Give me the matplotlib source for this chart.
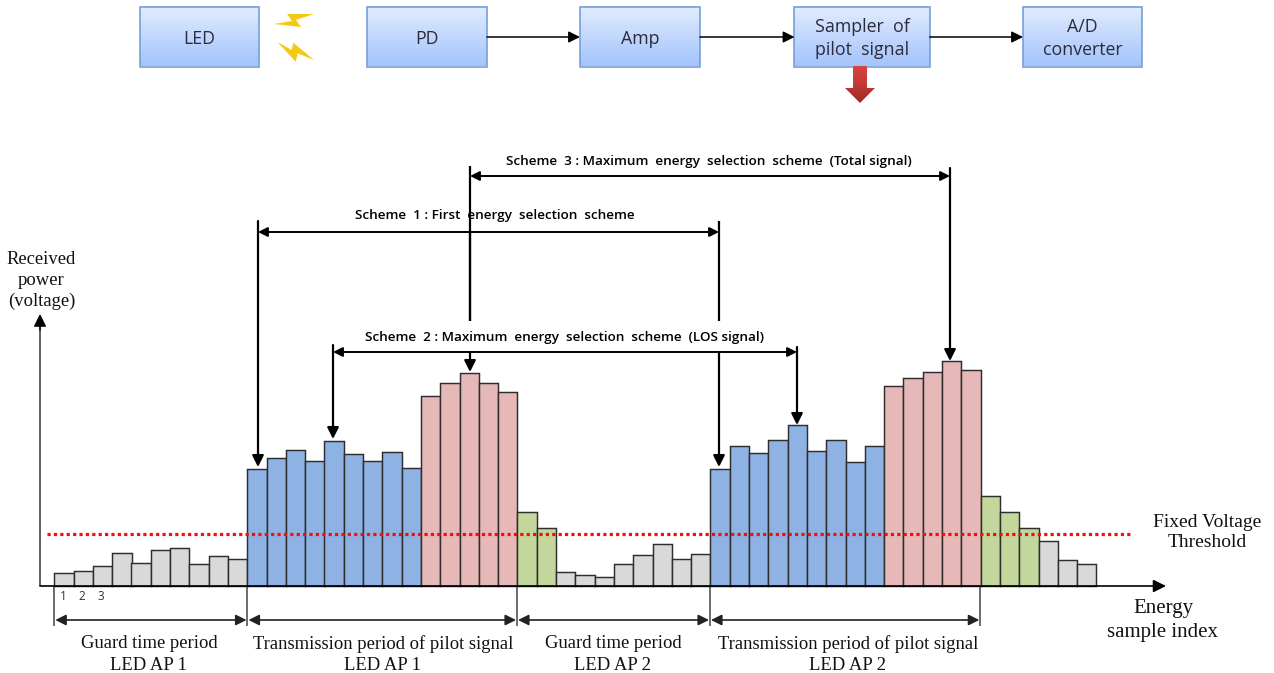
import numpy as np
import matplotlib
matplotlib.use('Agg')
import matplotlib.pyplot as plt
from matplotlib.colors import LinearSegmentedColormap
from matplotlib.patches import Polygon, Rectangle

# heights of the energy samples, in px above the axis
guard_1 = [13.3, 15.3, 20, 33, 22.7, 36.3, 38.3, 21.7, 30, 26.7]
pilot_los_1 = [117.3, 127.7, 136, 124.7, 145.3, 131.7, 124.7, 133.7, 118]
pilot_peak_1 = [190.3, 202.7, 213.3, 202.7, 194.3]
pilot_tail_1 = [74, 58.3]
guard_2 = [13.7, 11.3, 9.3, 21.7, 31, 41.7, 27, 32.3]
pilot_los_2 = [117.3, 140, 132.7, 146.3, 160.7, 134.7, 146.3, 124, 140]
pilot_peak_2 = [199.7, 208, 214.3, 224.7, 216.3]
pilot_tail_2 = [90, 74, 58.3]
guard_3 = [45, 26, 21.7]
threshold = 52

segments = [
    (guard_1, '#d9d9d9'), (pilot_los_1, '#8db2e3'), (pilot_peak_1, '#e6b9b8'),
    (pilot_tail_1, '#c3d69b'), (guard_2, '#d9d9d9'), (pilot_los_2, '#8db2e3'),
    (pilot_peak_2, '#e6b9b8'), (pilot_tail_2, '#c3d69b'), (guard_3, '#d9d9d9'),
]

block_names = ['LED', 'PD', 'Amp', 'Sampler  of\npilot  signal', 'A/D\nconverter']
block_left = [140, 367.5, 580, 794.5, 1023]
block_right = [259, 487, 700, 929.7, 1142]

period_names = ['Guard time period\nLED AP 1', 'Transmission period of pilot signal\nLED AP 1',
                'Guard time period\nLED AP 2', 'Transmission period of pilot signal\nLED AP 2']
period_edges = [54.3, 247.5, 517, 710, 980.3]
period_centers = [149, 383, 613, 848]

W, H = 1274, 673
BASE = 586
BAR_X0 = 54.3
BAR_W = 19.3


def px(x):
    # picture x to sample index
    return (x - BAR_X0) / BAR_W


def py(y):
    # picture y to height above the axis
    return BASE - y


def line(x0, y0, x1, y1, lw=1.6, color='black', z=5):
    ax.plot([px(x0), px(x1)], [py(y0), py(y1)], color=color, lw=lw, zorder=z, solid_capstyle='butt')


def arrow(x0, y0, x1, y1, style='-|>', lw=1.3, color='black', scale=15, z=6):
    ax.annotate('', xy=(px(x1), py(y1)), xytext=(px(x0), py(y0)), zorder=z,
                arrowprops=dict(arrowstyle=style, color=color, lw=lw, mutation_scale=scale,
                                shrinkA=0, shrinkB=0))


serif = 'Liberation Serif'
sans = 'Open Sans'

fig = plt.figure(figsize=(W / 100, H / 100), dpi=100)
ax = fig.add_axes([0, 0, 1, 1])
ax.set_xlim(px(0), px(W))
ax.set_ylim(py(H), py(0))
ax.axis('off')

# samples
idx = 0
for values, colour in segments:
    ax.bar(np.arange(idx, idx + len(values)), values, width=1, align='edge', color=colour,
           edgecolor='#2e2e2e', linewidth=1.05, zorder=2)
    idx += len(values)

ax.plot([px(47), px(1131)], [threshold, threshold], color='#fa0a0a', lw=2.3, ls=(0, (1, 1)), zorder=4)

# axes of the sketch
arrow(40, 586, 1166, 586, lw=1.2, scale=19)
line(40, 586, 40, 325, lw=1.2, color='#444444')
arrow(40, 330, 40, 314, lw=1.0, scale=19)

# period brackets
for x in period_edges:
    line(x, 586, x, 626, lw=1.1, color='#444444')
for a, b in zip(period_edges[:-1], period_edges[1:]):
    arrow(a + 1, 620, b - 1, 620, style='<|-|>', lw=1.2, color='#222222', scale=16)
for name, x in zip(period_names, period_centers):
    ax.text(px(x), py(654.5), name, family=serif, fontsize=13.4, ha='center', va='center',
            linespacing=1.37, color='#111111')
for label, x in zip(['1', '2', '3'], [63.5, 81.5, 101]):
    ax.text(px(x), py(597), label, family=sans, fontsize=8.5, ha='center', va='center', color='#333333')

# scheme 3
arrow(470, 176, 950, 176, style='<|-|>', lw=1.4, scale=14)
line(470, 166, 470, 321)
arrow(470, 352, 470, 372, lw=1.6, scale=17)
arrow(950, 168, 950, 361, lw=1.6, scale=17)
# scheme 1
arrow(258, 232, 719, 232, style='<|-|>', lw=1.4, scale=14)
line(470, 232, 470, 321)
line(719, 221, 719, 321)
arrow(258, 221, 258, 467, lw=1.6, scale=17)
arrow(719, 352, 719, 467, lw=1.6, scale=17)
# scheme 2
arrow(333, 352, 797, 352, style='<|-|>', lw=1.4, scale=14)
arrow(333, 345, 333, 439, lw=1.6, scale=17)
arrow(797, 347, 797, 425, lw=1.6, scale=17)

for text, x, y in [('Scheme  3 : Maximum  energy  selection  scheme  (Total signal)', 709, 162),
                   ('Scheme  1 : First  energy  selection  scheme', 495, 216),
                   ('Scheme  2 : Maximum  energy  selection  scheme  (LOS signal)', 565, 337)]:
    ax.text(px(x), py(y), text, family=sans, fontsize=9.7, weight='semibold', ha='center', va='center')

ax.text(px(41.5), py(280.5), 'Received\npower\n(voltage)', family=serif, fontsize=13.4, ha='center', va='center',
        linespacing=1.3, color='#111111')
ax.text(px(1207), py(532.5), 'Fixed Voltage\nThreshold', family=serif, fontsize=14, ha='center', va='center',
        linespacing=1.3, color='#111111')
ax.text(px(1163), py(620.5), 'Energy\nsample index', family=serif, fontsize=15, ha='center', va='center',
        linespacing=1.4, color='#111111')

# block diagram
block_cmap = LinearSegmentedColormap.from_list('block', ['#e2ecff', '#a3c4fb'])
ramp = np.linspace(0, 1, 64).reshape(-1, 1)
for name, left, right in zip(block_names, block_left, block_right):
    ax.imshow(ramp, cmap=block_cmap, aspect='auto', zorder=3,
              extent=(px(left), px(right), py(66.5), py(7)))
    ax.add_patch(Rectangle((px(left), py(66.5)), px(right) - px(left), 59.5, fill=False,
                           edgecolor='#76a0d8', lw=1.2, zorder=4))
    ax.text(px((left + right) / 2), py(38.5), name, family=sans, fontsize=12.8, ha='center', va='center',
            color='#2b2b3a', linespacing=1.3, zorder=5)
ax.set_xlim(px(0), px(W))
ax.set_ylim(py(H), py(0))

for a, b in zip(block_right[1:], block_left[2:]):
    arrow(a, 37, b, 37, lw=1.1, scale=17)

# light bolts
bolt_a = [(314, 14), (287, 14), (292, 21), (274, 24), (301, 27), (296, 20)]
bolt_b = [(277.7, 42.3), (295.7, 61.7), (297.7, 53.3), (314, 60), (293.3, 42.7), (291.7, 50)]
for bolt in (bolt_a, bolt_b):
    ax.add_patch(Polygon([(px(x), py(y)) for x, y in bolt], closed=True, color='#f5c90f', lw=0, zorder=5))

# red output arrow
red_cmap = LinearSegmentedColormap.from_list('red', ['#d9443f', '#c23a36', '#9c2a27'])
shape = Polygon([(px(x), py(y)) for x, y in [(853, 66), (867, 66), (867, 88), (875, 88), (860, 103), (845, 88), (853, 88)]],
                closed=True, facecolor='none', edgecolor='none', transform=ax.transData)
ax.add_patch(shape)
img = ax.imshow(ramp, cmap=red_cmap, aspect='auto', zorder=5, extent=(px(845), px(875), py(103), py(66)))
img.set_clip_path(shape)
ax.set_xlim(px(0), px(W))
ax.set_ylim(py(H), py(0))

fig.savefig('out.png', dpi=100, facecolor='white')
